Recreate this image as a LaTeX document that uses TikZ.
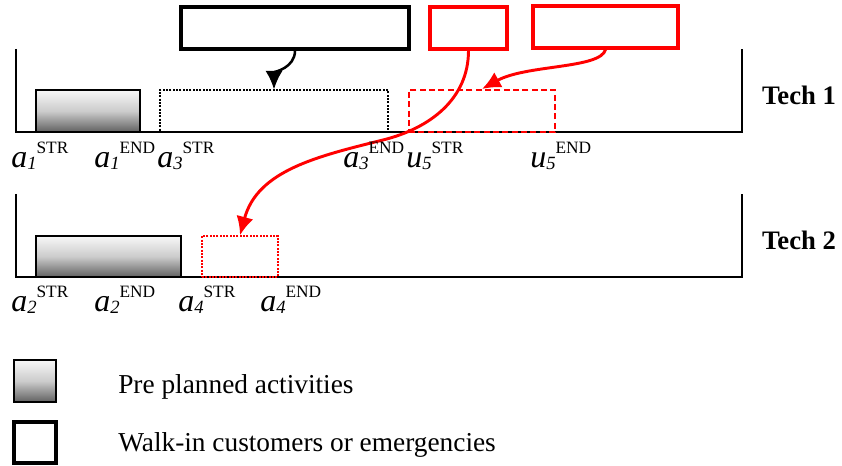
\documentclass[tikz,border=0pt]{standalone}
\usepackage{fontspec}
\setmainfont{Liberation Serif}
\usetikzlibrary{arrows.meta,fit}
\tikzset{>={Latex[length=14pt,width=13pt]}}
\tikzset{
	axis/.style={line width=0.8pt},
	planned/.style={draw=black,line width=1pt,inner sep=0pt,top color=black!3,bottom color=black!62,middle color=black!20},
	slot/.style={draw=black,line width=0.8pt,dash pattern=on 1.5pt off 1pt,inner sep=0pt},
	newslot/.style={draw=red,line width=1.5pt,dash pattern=on 4.5pt off 2.5pt,inner sep=0pt},
	moved/.style={draw=red,line width=1pt,dash pattern=on 1.5pt off 1pt,inner sep=0pt},
	job/.style={draw=black,line width=2.6pt,inner sep=0pt},
	redjob/.style={draw=red,line width=2.3pt,inner sep=0pt},
	evlbl/.style={anchor=base west,inner sep=0pt,font=\fontsize{24}{24}\selectfont},
	tech/.style={inner sep=0pt,font=\fontsize{20}{20}\selectfont\bfseries},
	keytext/.style={anchor=base west,inner sep=0pt,font=\fontsize{20.5}{22}\selectfont}
}
\newcommand{\evt}[3]{\textit{#1}\raisebox{-0.05em}{\fontsize{14}{14}\selectfont\textit{#2}}\raisebox{0.44em}{\fontsize{13}{13}\selectfont #3}}

\begin{document}
\begin{tikzpicture}[x=0.75pt,y=0.75pt]
	\useasboundingbox (0,0) rectangle (842,466);

	% the two technicians
	\draw[axis] (16,417)--(16,334)--(742,334)--(742,417);
	\draw[axis] (16,272)--(16,189)--(742,189)--(742,272);
	\node[tech] (tech1) at (799,371) {Tech 1};
	\node[tech] (tech2) at (799,226) {Tech 2};

	\node[planned,fit={(36,334) (140,376)}] (a1) {};
	\node[slot,fit={(160,334) (388,376)}] (a3) {};
	\node[newslot,fit={(409,334) (555,376)}] (u5) {};
	\node[planned,fit={(36,189) (181,230)}] (a2) {};
	\node[moved,fit={(202,189) (278,230)}] (a4) {};

	% incoming jobs
	\node[job,fit={(181,417) (409,459)}] (walkin) {};
	\node[redjob,fit={(430,417) (507,459)}] (urg1) {};
	\node[redjob,fit={(533,418) (678,460)}] (urg2) {};

	\draw[->,line width=1.9pt] (walkin.south) to[out=-90,in=90] (a3.north);
	\draw[->,red,line width=2.2pt] (urg2.south) to[out=-104,in=29,out distance=15pt,in distance=38pt] (u5.north);
	\coordinate (bend) at (383,326);
	\draw[->,red,line width=2.2pt] (urg1.south) to[out=-90,in=14] (bend) to[out=194,in=75] (a4.north);

	% start and end times
	\node[evlbl] (a1s) at (11,298) {\evt{a}{1}{STR}};
	\node[evlbl] (a1e) at (94,298) {\evt{a}{1}{END}};
	\node[evlbl] (a3s) at (157,298) {\evt{a}{3}{STR}};
	\node[evlbl] (a3e) at (343,298) {\evt{a}{3}{END}};
	\node[evlbl] (u5s) at (406,298) {\evt{u}{5}{STR}};
	\node[evlbl] (u5e) at (530,298) {\evt{u}{5}{END}};
	\node[evlbl] (a2s) at (11,154) {\evt{a}{2}{STR}};
	\node[evlbl] (a2e) at (94,154) {\evt{a}{2}{END}};
	\node[evlbl] (a4s) at (178,154) {\evt{a}{4}{STR}};
	\node[evlbl] (a4e) at (260,154) {\evt{a}{4}{END}};

	% key
	\node[planned,fit={(14,64) (56,106)}] (keyplan) {};
	\node[job,fit={(14,3) (56,44)}] (keyjob) {};
	\node[keytext] (keyplantxt) at (118,72) {Pre planned activities};
	\node[keytext] (keyjobtxt) at (118,14) {Walk-in customers or emergencies};
\end{tikzpicture}
\end{document}
